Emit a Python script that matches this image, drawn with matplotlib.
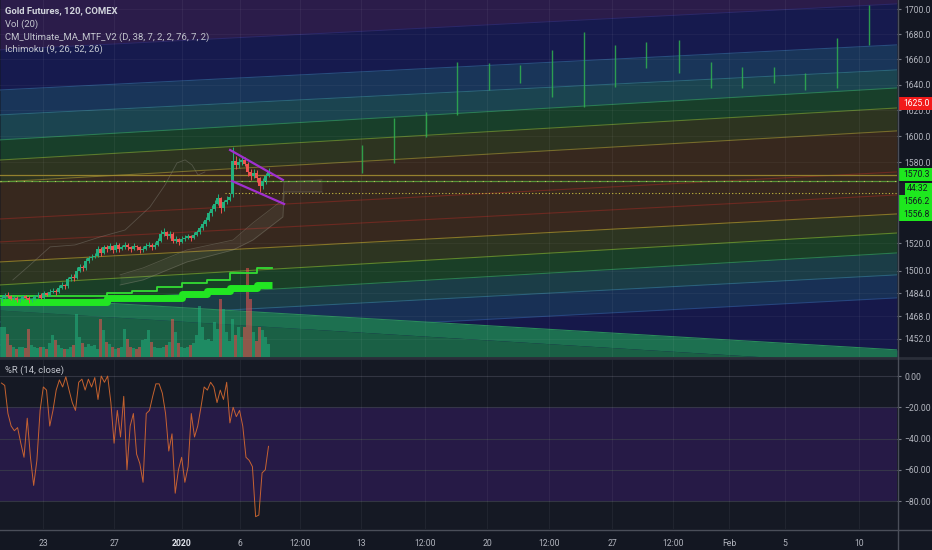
import numpy as np
import matplotlib
matplotlib.use("Agg")
import matplotlib.pyplot as plt
from matplotlib.ticker import FixedLocator, NullLocator, FixedFormatter
from matplotlib.patches import Rectangle

plt.rcParams['font.family'] = ['Roboto', 'DejaVu Sans']

# ---------------- data ----------------
opens = [1480, 1481, 1483, 1482, 1480, 1481, 1479, 1480, 1482, 1481, 1479, 1480, 1482, 1483,
         1481, 1484, 1483, 1485, 1486, 1485,
         1488, 1490, 1489, 1494, 1496,
         1495, 1500, 1503, 1502, 1507,
         1509, 1510, 1511, 1516, 1513,
         1517, 1516, 1518, 1515, 1519, 1516, 1517, 1519, 1517, 1516, 1518, 1517, 1515, 1516, 1518, 1519,
         1517, 1519, 1522, 1527, 1528,
         1525, 1527, 1522, 1523, 1521,
         1523, 1524, 1525, 1524, 1526,
         1528, 1531, 1534, 1537, 1542,
         1545, 1549, 1553, 1546, 1550,
         1552,
         1556,
         1581, 1578, 1580, 1582, 1579, 1573, 1570, 1572, 1568, 1562, 1566, 1570]
closes = [1481, 1483, 1482, 1480, 1481, 1479, 1480, 1482, 1481, 1479, 1480, 1482, 1483, 1481,
          1484, 1483, 1485, 1486, 1485, 1488,
          1490, 1489, 1494, 1496, 1495,
          1500, 1503, 1502, 1507, 1509,
          1510, 1511, 1516, 1513, 1517,
          1516, 1518, 1515, 1519, 1516, 1517, 1519, 1517, 1516, 1518, 1517, 1515, 1516, 1518, 1519, 1517,
          1519, 1522, 1527, 1528, 1525,
          1527, 1522, 1523, 1521, 1523,
          1524, 1525, 1524, 1526, 1528,
          1531, 1534, 1537, 1542, 1545,
          1549, 1553, 1546, 1550, 1552,
          1554,
          1581,
          1578, 1580, 1582, 1579, 1573, 1570, 1572, 1568, 1562, 1566, 1570, 1573]
highs = [1483, 1484, 1485, 1483, 1482, 1482, 1481, 1483, 1483, 1482, 1481, 1483, 1485, 1484,
         1486, 1485, 1487, 1488, 1487, 1490,
         1492, 1491, 1496, 1498, 1498,
         1503, 1505, 1504, 1509, 1511,
         1512, 1513, 1518, 1517, 1519,
         1519, 1520, 1519, 1521, 1520, 1519, 1521, 1520, 1518, 1520, 1519, 1518, 1518, 1520, 1521, 1520,
         1521, 1524, 1530, 1531, 1529,
         1529, 1528, 1525, 1524, 1525,
         1526, 1527, 1526, 1528, 1530,
         1533, 1536, 1539, 1544, 1548,
         1552, 1556, 1554, 1552, 1555,
         1557,
         1592,
         1585, 1583, 1585, 1584, 1580, 1575, 1575, 1574, 1569, 1568, 1572, 1576]
lows = [1478, 1480, 1481, 1479, 1479, 1478, 1478, 1479, 1480, 1477, 1478, 1479, 1481, 1480,
        1480, 1482, 1482, 1484, 1483, 1484,
        1487, 1487, 1488, 1493, 1493,
        1494, 1499, 1500, 1501, 1506,
        1508, 1509, 1510, 1511, 1512,
        1514, 1515, 1513, 1514, 1514, 1515, 1516, 1515, 1514, 1515, 1515, 1513, 1514, 1515, 1517, 1515,
        1516, 1518, 1521, 1525, 1523,
        1524, 1520, 1520, 1519, 1520,
        1522, 1523, 1522, 1523, 1525,
        1527, 1530, 1533, 1536, 1540,
        1544, 1548, 1542, 1544, 1549,
        1551,
        1554,
        1575, 1576, 1578, 1577, 1570, 1567, 1568, 1565, 1558, 1560, 1564, 1569]
volume = [30, 30, 23, 12, 10, 8, 10, 10, 9, 28, 12, 10, 9, 10, 10, 8, 14, 22, 17, 12,
          9, 8, 8, 10, 12, 42, 20, 14, 10, 13, 11, 12, 8, 37, 27, 15, 13, 10, 8, 9,
          10, 28, 18, 10, 9, 8, 10, 17, 18, 27, 15, 10, 9, 9, 10, 12, 15, 37, 25, 14,
          10, 9, 10, 12, 14, 22, 50, 30, 17, 18, 16, 35, 28, 57, 47, 25, 16, 37, 22, 30,
          20, 30, 88, 57, 25, 16, 30, 27, 20, 13]
willr = [-4.5, -6, -24, -32, -35, -33, -43, -52, -27, -52, -70, -54, -22, -7, -9, -32, -22, -9,
         -2.5, -7, -0.5, -9, -17, -22, -4, -2, -9, -2, -7, -1, -15, 0, -4, 0, -17, -43, -22, -39,
         -13, -60, -32, -24, -50, -56, -68, -24, -22, -13, -5, -5, -11, -24, -48, -37, -75, -60,
         -52, -68, -58, -24, -39, -32, -20, -7, -9, -4, -7, -17, -9, -15, -4, -30, -20, -26, -22,
         -32, -52, -54, -58, -90, -89, -62, -60, -45]

# fan bands (price at left edge / right edge), top to bottom
band_left = [1667.4, 1635.7, 1616.3, 1597.1, 1581.8, 1565.3, 1506.5, 1490.0, 1475.8, 1463.8, 1447.8]
band_right = [1704.5, 1671.4, 1651.5, 1637.3, 1621.7, 1604.0, 1541.5, 1527.5, 1513.0, 1497.2, 1480.8]
band_colors = ['#2b1c4a', '#161a4e', '#193559', '#1b4450', '#183f2a', '#2d3420',
               '#37281e', '#2d3521', '#1a3f27', '#1b3d47', '#183055', '#16184a']
band_line_colors = ['#2a2a70', '#2c5a8a', '#2f7080', '#2f8a55', '#6d8a2e', '#8a7a2e',
                    '#9a8a2a', '#6a9a2e', '#2f8a5a', '#2f6a8a', '#2a4a8a']
red_left = [1537.8, 1521.0]
red_right = [1572.8, 1555.6]
tri_left, tri_right = 1481.5, 1444.4
tri_strip_left, tri_strip_right = 1472.2, 1434.0

# ichimoku
cloud_x = [40, 47.7, 62.3, 77.7, 84.3, 94.3, 94.7, 107.3]
cloud_a = [1497.2, 1502.2, 1515.2, 1522.4, 1534.9, 1551.9, 1565.3, 1566.8]
cloud_b = [1490.0, 1493.6, 1506.5, 1515.2, 1522.4, 1539.3, 1557.8, 1557.8]
chikou_x = [4.3, 10, 16.7, 25, 33.3, 41.7, 50, 55, 59, 61.7, 64, 66, 68.3]
chikou = [1493.6, 1504.3, 1517.4, 1518.8, 1524.6, 1529.7, 1546.7, 1563.0, 1579.6, 1581.9,
          1578.1, 1570.5, 1572.8]

# CM ultimate MA step lines
ma_slow_x = [0, 35.7, 60.7, 69, 76.7, 85.7, 90.7]
ma_slow = [1477.9, 1480.8, 1483.6, 1485.7, 1487.9, 1490.0, 1490.0]
ma_fast_x = [0, 35.7, 44, 52.3, 60.7, 69, 76.7, 85.7, 90.7]
ma_fast = [1482.2, 1484.3, 1485.7, 1488.6, 1491.4, 1493.6, 1498.6, 1502.2, 1502.2]

# higher-timeframe projections (thin green bars in the future area)
fut_x = [120.7, 131.3, 142, 152.3, 163, 173.3, 184, 194.7, 205, 215.3, 226.3, 237, 247.3,
         258, 268.3, 279, 289.7]
fut_hi = [1593.3, 1614.0, 1618.6, 1657.8, 1657.0, 1655.4, 1667.4, 1681.8, 1671.4, 1673.8,
          1675.4, 1657.8, 1653.9, 1653.9, 1649.1, 1677.0, 1703.7]
fut_lo = [1572.0, 1579.6, 1599.4, 1616.3, 1635.7, 1641.2, 1630.3, 1622.5, 1638.1, 1653.1,
          1649.1, 1637.3, 1637.3, 1641.2, 1635.7, 1637.3, 1671.4]

# flag
flag_up_x = [76.7, 94.3]
flag_up = [1589.4, 1566.8]
flag_lo_x = [77.3, 94.7]
flag_lo = [1566.0, 1548.9]

last_price = 1570.3
level_1 = 1566.2
level_2 = 1556.8
alert_price = 1625.0

price_ticks = [1700, 1680, 1660, 1640, 1620, 1600, 1580, 1520, 1500, 1484, 1468, 1452]
wr_ticks = [0, -20, -40, -60, -80]
wr_labels = ['0.00', '\u221220.00', '\u221240.00', '\u221260.00', '\u221280.00']
time_ticks = [14.33, 38, 60.67, 80, 100, 120.33, 141.67, 162.33, 183, 204, 224.33, 243, 261.67, 286.33]
time_labels = ['23', '27', '2020', '6', '12:00', '13', '12:00', '20', '12:00', '27', '12:00', 'Feb', '5', '10']

# ---------------- figure ----------------
BG = '#131722'
TXT = '#b2b5be'
FS = 6.2
XMAX = 299
W, H = 932, 550
fig = plt.figure(figsize=(W / 100, H / 100), dpi=100, facecolor=BG)

ax = fig.add_axes([0, 193 / H, 897 / W, 357 / H])
ax.set_facecolor(BG)
ax.set_yscale('log')
ax.set_xlim(0, XMAX)
ax.set_ylim(1439.5, 1707.7)

ex = [0, XMAX]
prev = [1800, 1800]
for k, col in enumerate(band_colors):
    nxt = [band_left[k], band_right[k]] if k < len(band_left) else [1400, 1400]
    ax.fill_between(ex, prev, nxt, color=col, lw=0, zorder=0)
    prev = nxt
for l, r, lc in zip(band_left, band_right, band_line_colors):
    ax.plot(ex, [l, r], color=lc, lw=0.8, alpha=0.8, zorder=0.5)
for l, r in zip(red_left, red_right):
    ax.plot(ex, [l, r], color='#7a2a22', lw=0.8, alpha=0.8, zorder=0.5)
ax.fill_between(ex, [tri_left, tri_right], [tri_strip_left, tri_strip_right], color='#1d7050', lw=0, zorder=0.6)
ax.fill_between(ex, [tri_strip_left, tri_strip_right], [1400, 1400], color='#1a6045', lw=0, zorder=0.6)
ax.plot(ex, [tri_left, tri_right], color='#2a8a5a', lw=0.8, zorder=0.6)

for t in time_ticks:
    ax.axvline(t, color='white', alpha=0.05, lw=0.8, zorder=0.7)
for p in price_ticks:
    ax.axhline(p, color='white', alpha=0.04, lw=0.8, zorder=0.7)

# ichimoku
ax.fill_between(cloud_x, cloud_a, cloud_b, color='#9a9a8a', alpha=0.11, lw=0, zorder=1)
ax.plot(cloud_x, cloud_a, color='#8a8a7a', lw=0.6, alpha=0.4, zorder=1)
ax.plot(cloud_x, cloud_b, color='#8a8a7a', lw=0.6, alpha=0.4, zorder=1)
ax.plot(chikou_x, chikou, color='#8a8a80', lw=0.6, alpha=0.4, zorder=1)

# levels
ax.axhline(last_price, color='#a08a30', lw=0.9, alpha=0.9, zorder=1.2)
ax.axhline(level_1, color='#5aa03c', lw=0.9, alpha=0.9, zorder=1.2)
ax.axhline(level_1, color='#c0c060', lw=0.8, ls=(0, (1, 6)), zorder=1.3)
ax.plot([75, XMAX], [level_2, level_2], color='#c8c040', lw=0.8, ls=(0, (1, 2)), zorder=1.2)

# future bars
ax.vlines(fut_x, fut_lo, fut_hi, colors='#30b050', lw=1.0, alpha=0.85, zorder=1.5)

# volume
xs = np.arange(len(closes)) + 0.5
o = np.array(opens, float)
c = np.array(closes, float)
up = c >= o
ccol = np.where(up, '#22b07d', '#ef5350')
vol = np.array(volume, float)
ax.bar(xs, vol / (4.0 * vol.max()), bottom=0, width=0.75, color=ccol, alpha=0.55,
       transform=ax.get_xaxis_transform(), zorder=2)

# MA lines
ax.step(ma_slow_x, ma_slow, where='post', color='#22e622', lw=5, solid_capstyle='butt', zorder=2.5)
ax.step(ma_fast_x, ma_fast, where='post', color='#33dd33', lw=1.3, zorder=2.5)

# candles
ax.vlines(xs, lows, highs, colors=ccol, lw=0.7, zorder=3)
body = np.maximum(np.abs(c - o), 0.4)
ax.bar(xs, body, bottom=np.minimum(o, c), width=0.7, color=ccol, zorder=3.5)

# flag
ax.plot(flag_up_x, flag_up, color='#a030d0', lw=1.6, zorder=4)
ax.plot(flag_lo_x, flag_lo, color='#a030d0', lw=1.6, zorder=4)

ax.yaxis.tick_right()
ax.yaxis.set_major_locator(FixedLocator(price_ticks))
ax.yaxis.set_minor_locator(NullLocator())
ax.yaxis.set_major_formatter(FixedFormatter(['%.1f' % p for p in price_ticks]))
ax.tick_params(axis='y', labelcolor=TXT, color='#787b86', labelsize=FS, length=3, pad=2.5)
ax.set_xticks([])
for s in ax.spines.values():
    s.set_visible(False)

# ---------------- %R panel ----------------
aw = fig.add_axes([0, 21 / H, 897 / W, 170 / H])
aw.set_facecolor('#151924')
aw.set_xlim(0, XMAX)
aw.set_ylim(-97.9, 10.9)
aw.fill_between(ex, [-80, -80], [-20, -20], color='#261a46', lw=0, zorder=0)
for v in wr_ticks:
    aw.axhline(v, color='#3a3d4a', lw=0.8, alpha=0.8, zorder=0.5)
for t in time_ticks:
    aw.axvline(t, color='white', alpha=0.05, lw=0.8, zorder=0.5)
wx = np.linspace(0.5, 89.5, len(willr))
aw.plot(wx, willr, color='#d86a30', lw=0.7, alpha=0.9, zorder=2)
aw.yaxis.tick_right()
aw.set_yticks(wr_ticks)
aw.set_yticklabels(wr_labels)
aw.tick_params(axis='y', labelcolor=TXT, color='#787b86', labelsize=FS, length=3, pad=2.5)
aw.set_xticks(time_ticks)
aw.set_xticklabels(time_labels)
aw.tick_params(axis='x', labelcolor=TXT, labelsize=FS, length=0, pad=7)
lab = aw.get_xticklabels()[2]
lab.set_color('#e0e3eb')
lab.set_fontweight('bold')
for s in aw.spines.values():
    s.set_visible(False)

# ---------------- overlay (pixel space) ----------------
ov = fig.add_axes([0, 0, 1, 1], zorder=10)
ov.set_xlim(0, W)
ov.set_ylim(H, 0)
ov.axis('off')
ov.patch.set_alpha(0)

ov.plot([0, W], [358, 358], color='#2a2e39', lw=2)
ov.plot([0, W], [529.5, 529.5], color='#4a4e59', lw=1)
ov.plot([897.5, 897.5], [0, H], color='#4a4e59', lw=1)

LFS = 6.8
ov.text(5, 11, 'Gold Futures, 120, COMEX', color='#d1d4dc', fontsize=LFS, fontweight='bold', va='center')
ov.text(5, 24, 'Vol (20)', color='#c3c6ce', fontsize=LFS, va='center')
ov.text(5, 37, 'CM_Ultimate_MA_MTF_V2 (D, 38, 7, 2, 2, 76, 7, 2)', color='#c3c6ce', fontsize=LFS, va='center')
ov.text(5, 49, 'Ichimoku (9, 26, 52, 26)', color='#c3c6ce', fontsize=LFS, va='center')
ov.text(5, 370, '%R (14, close)', color='#c3c6ce', fontsize=LFS, va='center')

ov.add_patch(Rectangle((898, 97), 34, 12.5, color='#f21a1a', lw=0))
ov.text(903, 103.2, '%.1f' % alert_price, color='white', fontsize=FS, va='center')
ov.add_patch(Rectangle((898, 168), 34, 12.5, color='#1ee81e', lw=0))
ov.text(903, 174.2, '%.1f' % last_price, color='#131722', fontsize=FS, va='center')
ov.add_patch(Rectangle((898, 182.5), 34, 38.5, color='#1ee81e', lw=0))
ov.add_patch(Rectangle((898, 182.5), 7, 12, color='#1a1e29', lw=0))
ov.text(907, 188.5, '44:32', color='#131722', fontsize=FS, va='center')
ov.text(903, 201.5, '%.1f' % level_1, color='#131722', fontsize=FS, va='center')
ov.text(903, 214.5, '%.1f' % level_2, color='#131722', fontsize=FS, va='center')

fig.savefig('out.png', dpi=100, facecolor=BG)
